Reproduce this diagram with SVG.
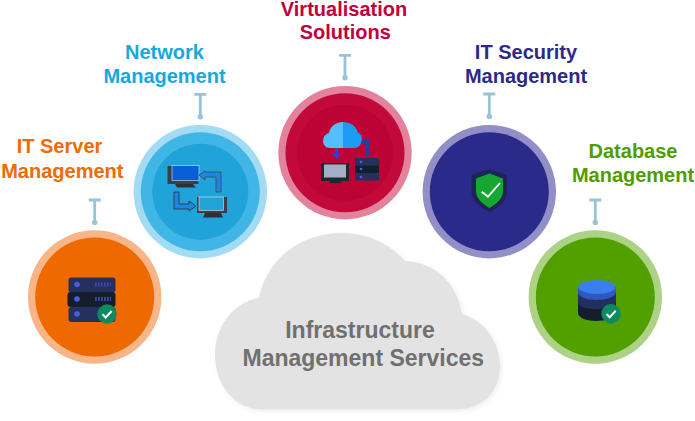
<svg xmlns="http://www.w3.org/2000/svg" width="695" height="421" viewBox="0 0 695 421">
<style>
.t{font-family:"Liberation Sans",Arial,sans-serif;font-weight:700;font-size:20px;text-anchor:middle}
.c{font-size:23px;fill:#707070}
.st{stroke:#98c4d4;stroke-width:2.800;fill:none}
.dot{fill:#98c4d4}
</style>
<defs>
<g id="pin"><path class="st" d="M-6 -25H6M0 -25V-3"/><circle class="dot" r="2.700" cy="-2.600"/></g>
<g id="tick"><circle r="9.700" fill="#0d8a5f"/><path d="M-4.500 0.300L-1.300 3.500L4.700 -3" fill="none" stroke="#fff" stroke-width="2"/></g>
<filter id="soft" x="-10%" y="-10%" width="120%" height="125%"><feDropShadow dx="1.500" dy="1.500" stdDeviation="2" flood-color="#000" flood-opacity="0.070"/></filter>
</defs>
<g id="cloud"><path fill="#e3e3e3" filter="url(#soft)" d="M262 409.500C235 409.500 215 385 215 355C215 326 234 302 259 298C266 261 299 233 342 233C368 233 390 244 405 261C436 262 458 285 462 314C484 320 500 342 500 366C500 392 482 409.500 457 409.500Z"/>
<text class="t c" x="360" y="338">Infrastructure</text>
<text class="t c" x="363.300" y="366">Management Services</text></g>
<g id="connectors">
<use href="#pin" x="94.700" y="225"/>
<use href="#pin" x="200.300" y="119.300"/>
<use href="#pin" x="345" y="80.300"/>
<use href="#pin" x="489.300" y="119"/>
<use href="#pin" x="595.300" y="225"/>
</g>
<g id="it-server">
<circle cx="94.700" cy="297" r="66.700" fill="#f8b588"/><circle cx="94.700" cy="297" r="59.500" fill="#ee6a00"/>
<rect x="68.500" y="277.500" width="47" height="15" rx="3" fill="#26305f"/>
<rect x="67.500" y="292" width="48" height="15" rx="3" fill="#161e2e"/>
<rect x="68.500" y="307" width="47" height="15" rx="3" fill="#26305f"/>
<circle cx="77" cy="284.500" r="2.800" fill="#4a5fe0"/><circle cx="77" cy="299" r="2.800" fill="#4a5fe0"/><circle cx="77" cy="314" r="2.800" fill="#4a5fe0"/>
<path d="M95 284.500H111M95 299H111" stroke="#3f48a8" stroke-width="4" stroke-dasharray="1.800 1.200"/>
<use href="#tick" x="107" y="314"/>
<text class="t" x="59.500" y="153.300" fill="#f06a00">IT Server</text>
<text class="t" x="62.300" y="177.500" fill="#f06a00">Management</text>
</g>
<g id="network">
<circle cx="200.300" cy="191.700" r="66.700" fill="#a2dbf3"/><circle cx="200.300" cy="191.700" r="59.500" fill="#3fb6e6"/><circle cx="200.300" cy="191.700" r="48" fill="#20a3d8"/>
<rect x="167.500" y="166" width="31" height="18" fill="#3a3f4a"/><rect x="172" y="165.500" width="27" height="15" fill="#0a5fd6" stroke="#d0e8f5" stroke-width="0.600"/>
<path d="M175 184H193L196 187.500H177Z" fill="#2c3038"/>
<path d="M199 175L205 171V172H221V192H216V177H205V180Z" fill="#1f86e0" stroke="#3a3f4a" stroke-width="0.700"/>
<path d="M174 192H179V204H189V201L196 206L189 211V209H174Z" fill="#1f86e0" stroke="#2c3038" stroke-width="0.800"/>
<path d="M197 197H227V213H197Z" fill="#3a3f4a"/><rect x="199" y="197" width="24.500" height="13.500" fill="#22a4d9" stroke="#d8e4ea" stroke-width="0.600"/>
<path d="M205 213H221L223 217.500H203Z" fill="#2c3038"/>
<text class="t" x="164.500" y="59" fill="#18a8df">Network</text>
<text class="t" x="164.500" y="83.300" fill="#18a8df">Management</text>
</g>
<g id="virtualisation">
<circle cx="345" cy="152.700" r="66.700" fill="#e2829c"/><circle cx="345" cy="152.700" r="59.500" fill="#c20a3a"/><circle cx="345" cy="152.700" r="48" fill="#bd0235"/>
<path d="M343 122C351 122 357 127 358 133C364 133 363 148 355 148H343Z" fill="#1e9bf5"/>
<path d="M343 122C335 122 330 127 329 133C321 135 321 148 330 148H343Z" fill="#55beff"/>
<path d="M362 140H370V155H366V144H362Z" fill="#1c3fa0"/>
<path d="M335 148H338V153H341L336.500 159L332 153H335Z" fill="#2a3fe0"/>
<rect x="321" y="163" width="28" height="18" fill="#23262e"/><rect x="324" y="164.500" width="22" height="13" fill="#a6aec6"/><path d="M331 181H340L342 183H329Z" fill="#23262e"/>
<rect x="355" y="158" width="24" height="7.500" fill="#26305f"/><rect x="355" y="165.500" width="24" height="7.500" fill="#161e2e"/><rect x="355" y="173" width="24" height="7.500" fill="#26305f"/>
<circle cx="361" cy="162" r="1.300" fill="#4a5fe0"/><circle cx="361" cy="169" r="1.300" fill="#4a5fe0"/><circle cx="361" cy="177" r="1.300" fill="#4a5fe0"/>
<text class="t" x="344" y="16" fill="#c0003c">Virtualisation</text>
<text class="t" x="345.300" y="38.800" fill="#c0003c">Solutions</text>
</g>
<g id="it-security">
<circle cx="489.300" cy="191.700" r="66.700" fill="#938fc6"/><circle cx="489.300" cy="191.700" r="59.500" fill="#2a2a8a"/>
<path d="M489.500 169L507 175V192C507 201 498 208 489.500 212C481 208 471.500 201 471.500 192V175Z" fill="#1d2457"/>
<path d="M489.500 173.500L503 178.500V191C503 199 496 204 489.500 208C483 204 476 199 476 191V178.500Z" fill="#14a832"/>
<path d="M481.700 191.700L488 196.700L500 183" fill="none" stroke="#fff" stroke-width="1.800"/>
<text class="t" x="526" y="59" fill="#2c2a86">IT Security</text>
<text class="t" x="526" y="83.300" fill="#2c2a86">Management</text>
</g>
<g id="database">
<circle cx="595.300" cy="297" r="66.700" fill="#abd285"/><circle cx="595.300" cy="297" r="59.500" fill="#529f00"/>
<path d="M578 287V313C578 318 587 321 596 321C605 321 616 318 616 313V287Z" fill="#161e2e"/>
<path d="M578 287V302C578 307 587 309 596 309C605 309 616 307 616 302V287Z" fill="#232f5c"/>
<path d="M578 287V292C578 297 587 300 596.500 300C606 300 616 297 616 292V287Z" fill="#2e58c0"/>
<ellipse cx="597" cy="287" rx="18.500" ry="7" fill="#3a7ff0"/>
<use href="#tick" x="611" y="313.700"/>
<text class="t" x="633" y="158" fill="#4f9d00">Database</text>
<text class="t" x="633" y="182" fill="#4f9d00">Management</text>
</g>
</svg>
